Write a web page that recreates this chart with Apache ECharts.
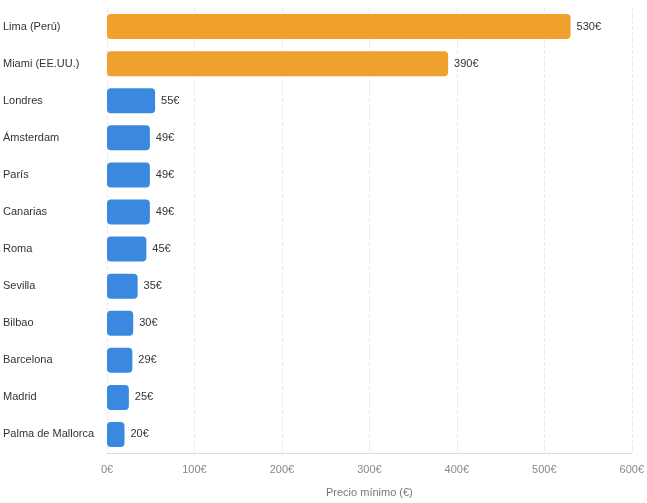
<!DOCTYPE html>
<html>
<head>
<meta charset="utf-8">
<script src="https://cdn.jsdelivr.net/npm/echarts@6/dist/echarts.min.js"></script>
<style>
  html, body { margin: 0; padding: 0; background: #fff; }
  #chart { width: 647px; height: 503px; }
</style>
</head>
<body>
<div id="chart"></div>
<script>
const cities = ['Lima (Perú)', 'Miami (EE.UU.)', 'Londres', 'Ámsterdam', 'París', 'Canarias', 'Roma', 'Sevilla', 'Bilbao', 'Barcelona', 'Madrid', 'Palma de Mallorca']
const prices = [530, 390, 55, 49, 49, 49, 45, 35, 30, 29, 25, 20]
const international = ['Lima (Perú)', 'Miami (EE.UU.)']

const orange = '#F0A02D'
const blue = '#3A88DF'

const chart = echarts.init(document.getElementById('chart'))

chart.setOption({
  animation: false,
  textStyle: { fontFamily: 'Liberation Sans, Arial, sans-serif' },
  grid: { left: 105, right: 14, top: 8, bottom: 49, containLabel: false },
  xAxis: {
    type: 'value',
    min: 0,
    max: 600,
    interval: 100,
    name: 'Precio mínimo (€)',
    nameLocation: 'middle',
    nameGap: 34,
    nameTextStyle: { color: '#777', fontSize: 11 },
    axisLabel: { color: '#888', fontSize: 11, margin: 11, formatter: (v) => `${v}€` },
    axisLine: { show: true, lineStyle: { color: '#ddd' } },
    axisTick: { show: false },
    splitLine: { show: true, lineStyle: { color: '#e8e8e8', type: 'dashed' } },
  },
  yAxis: {
    type: 'category',
    inverse: true,
    data: cities,
    axisLabel: { color: '#333', fontSize: 11, align: 'left', margin: 104 },
    axisLine: { show: false },
    axisTick: { show: false },
  },
  series: [{
    type: 'bar',
    barWidth: 25,
    data: prices.map((v, i) => ({
      value: v,
      itemStyle: {
        color: international.includes(cities[i]) ? orange : blue,
      },
    })),
    itemStyle: { borderRadius: 4 },
    label: {
      show: true,
      position: 'right',
      distance: 6,
      color: '#333',
      fontSize: 11,
      formatter: (p) => `${p.value}€`,
    },
  }],
})
</script>
</body>
</html>
